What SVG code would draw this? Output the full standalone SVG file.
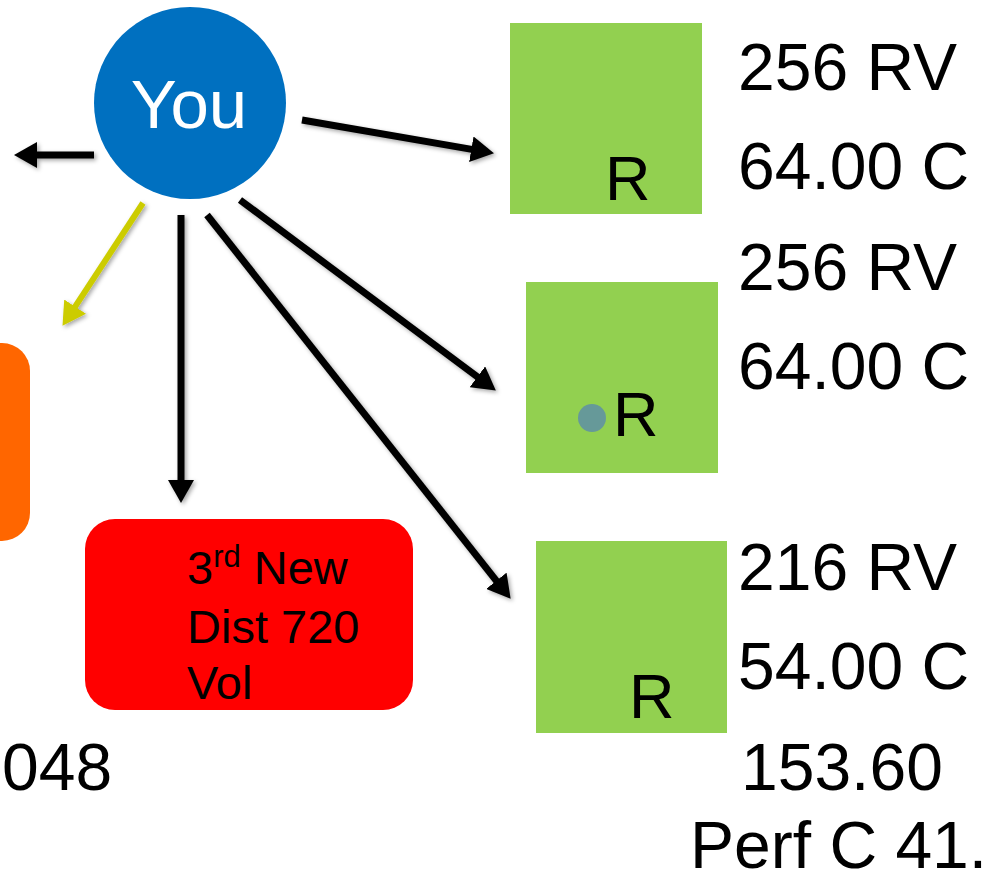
<svg xmlns="http://www.w3.org/2000/svg" width="990" height="874" viewBox="0 0 990 874">
<style>
text{font-family:"Liberation Sans",Arial,sans-serif;fill:#000}
.big{font-size:66px}
.r{font-size:63px}
.red{font-size:47px}
.g{fill:#92D050}
.c{stroke:#000;stroke-width:7;fill:none;marker-end:url(#ah)}
.y{stroke:#CCCC00;stroke-width:6;fill:none;marker-end:url(#ahy)}
</style>
<defs>
<marker id="ah" markerUnits="userSpaceOnUse" markerWidth="26" markerHeight="26" refX="2" refY="13" orient="auto"><path d="M0,0 L23,13 L0,26 z" fill="#000"/></marker>
<marker id="ahy" markerUnits="userSpaceOnUse" markerWidth="26" markerHeight="26" refX="2" refY="13" orient="auto"><path d="M0,0 L23,13 L0,26 z" fill="#CCCC00"/></marker>
<filter id="sh" x="-20%" y="-20%" width="140%" height="140%"><feDropShadow dx="2" dy="2" stdDeviation="2" flood-color="#000" flood-opacity="0.35"/></filter>
</defs>
<rect width="990" height="874" fill="#fff"/>
<g id="orange"><rect x="-40" y="343" width="70" height="198" rx="28" fill="#FF6600"/></g>
<g id="you"><circle cx="190" cy="103" r="96" fill="#0070C0"/><text x="189" y="128" text-anchor="middle" style="font-size:69px;fill:#fff">You</text></g>
<g id="r1"><rect class="g" x="510" y="23" width="192" height="191"/><text class="r" x="605" y="200">R</text></g>
<g id="r2"><rect class="g" x="526" y="282" width="192" height="191"/><circle cx="592" cy="418" r="14" fill="#669999"/><text class="r" x="613" y="436">R</text></g>
<g id="r3"><rect class="g" x="536" y="541" width="191" height="192"/><text class="r" x="629" y="718">R</text></g>
<g id="third"><rect x="85" y="519" width="328" height="191" rx="30" fill="#FF0000"/>
<text class="red" x="187" y="584">3<tspan style="font-size:31px" dy="-17">rd</tspan><tspan dy="17"> New</tspan></text>
<text class="red" x="187" y="643">Dist 720</text>
<text class="red" x="187" y="699">Vol</text></g>
<g id="labels">
<text class="big" x="738" y="90">256 RV</text>
<text class="big" x="738" y="189">64.00 C</text>
<text class="big" x="738" y="290">256 RV</text>
<text class="big" x="738" y="389">64.00 C</text>
<text class="big" x="738" y="590">216 RV</text>
<text class="big" x="738" y="689">54.00 C</text>
<text class="big" x="741" y="790">153.60</text>
<text class="big" x="690" y="868">Perf C 41.</text>
<text class="big" x="2" y="790">048</text>
</g>
<g id="connectors" filter="url(#sh)">
<line class="c" x1="94" y1="155" x2="35" y2="155"/>
<line class="c" x1="302" y1="120" x2="473.3" y2="149.6"/>
<line class="c" x1="181" y1="215" x2="181" y2="482"/>
<line class="c" x1="240" y1="200" x2="479" y2="378"/>
<line class="c" x1="207" y1="215" x2="497.6" y2="582.3"/>
<line class="y" x1="143" y1="203" x2="74" y2="308.3"/>
</g>
</svg>
